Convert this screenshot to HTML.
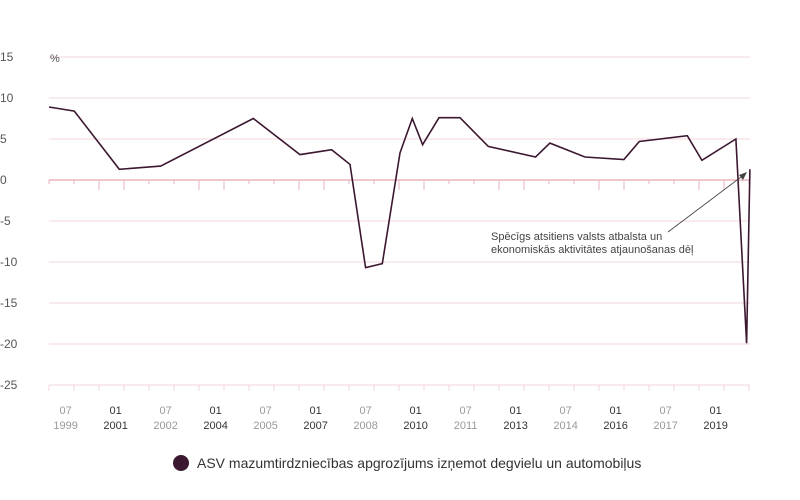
<!DOCTYPE html>
<html><head><meta charset="utf-8"><style>
body{margin:0;background:#fff;}
svg{display:block;font-family:"Liberation Sans",sans-serif;}
</style></head><body>
<svg id="chart" width="800" height="500" viewBox="0 0 800 500">
<g id="grid"></g>
<g id="yaxis"></g>
<g id="xaxis"></g>
<text x="50" y="62" font-size="11" fill="#555">%</text>
<path id="series" fill="none" stroke="#3b1830" stroke-width="1.6" stroke-linejoin="miter"></path>
<g>
<text x="491" y="240" font-size="11" fill="#444">Spēcīgs atsitiens valsts atbalsta un</text>
<text x="491" y="253" font-size="11" fill="#444">ekonomiskās aktivitātes atjaunošanas dēļ</text>
<line x1="668" y1="232" x2="745" y2="174" stroke="#444" stroke-width="0.8"/>
<path d="M747,172 L739,175 L743,180 Z" fill="#444"/>
</g>
<g>
<circle cx="181" cy="463" r="8" fill="#3b1830"/>
<text x="197" y="468" font-size="14" fill="#333">ASV mazumtirdzniecības apgrozījums izņemot degvielu un automobiļus</text>
</g>
</svg>
<script>
const years=[1999.0,1999.76,2001.11,2002.35,2005.13,2006.53,2007.48,2008.03,2008.5,2009.0,2009.53,2009.9,2010.21,2010.7,2011.33,2012.18,2013.6,2014.03,2015.08,2016.25,2016.71,2018.15,2018.59,2019.61,2019.93,2020.03];
const values=[8.9,8.4,1.3,1.7,7.5,3.1,3.7,1.9,-10.7,-10.2,3.3,7.5,4.3,7.6,7.6,4.1,2.8,4.5,2.8,2.5,4.7,5.4,2.4,5.0,-19.9,1.3];
const yTicks=[15,10,5,0,-5,-10,-15,-20,-25];
const xMonthLabels=["07","01","07","01","07","01","07","01","07","01","07","01","07","01","07"];
const xYearLabels=["1999","2001","2002","2004","2005","2007","2008","2010","2011","2013","2014","2016","2017","2019"];
const xLabelYears=[1999.5,2001,2002.5,2004,2005.5,2007,2008.5,2010,2011.5,2013,2014.5,2016,2017.5,2019];

const NS="http://www.w3.org/2000/svg";
function X(t){return 49+(t-1999)*33.33;}
function Y(v){return 180-v*8.2;}
function mk(tag,attrs,parent){const e=document.createElementNS(NS,tag);for(const k in attrs)e.setAttribute(k,attrs[k]);parent.appendChild(e);return e;}
const grid=document.getElementById('grid'),yax=document.getElementById('yaxis'),xax=document.getElementById('xaxis');
yTicks.forEach(v=>{
  const l=mk('line',{x1:49,x2:750,y1:Y(v),y2:Y(v),stroke:v===0?'#e5a3af':'#f3d6dc','stroke-width':v===0?1.3:1},grid);
  
  
  const t=mk('text',{x:0,y:Y(v)+4,'font-size':12,fill:'#555'},yax);
  t.textContent=String(v);
  
  
});
for(let i=0;i<=28;i++){
  const x=49+i*25;
  const long=(i%4===2||i%4===3);
  const tk=mk('line',{x1:x,x2:x,y1:180,y2:long?190:184,stroke:'#ebc0c8','stroke-width':1.2},grid);
  
  
  const bt=mk('line',{x1:x,x2:x,y1:385,y2:391,stroke:'#f3d6dc','stroke-width':1},xax);
  
  
}
xLabelYears.forEach((t,i)=>{
  const dark=xMonthLabels[i]==="01";
  const m=mk('text',{x:X(t),y:414,'font-size':11,'text-anchor':'middle',fill:dark?'#333':'#999'},xax);
  m.textContent=xMonthLabels[i];
  
  
  const y=mk('text',{x:X(t),y:429,'font-size':11,'text-anchor':'middle',fill:dark?'#333':'#999'},xax);
  y.textContent=xYearLabels[i];
  
  
});
document.getElementById('series').setAttribute('d',years.map((t,i)=>(i?'L':'M')+X(t).toFixed(1)+','+Y(values[i]).toFixed(1)).join(' '));
</script>
</body></html>
